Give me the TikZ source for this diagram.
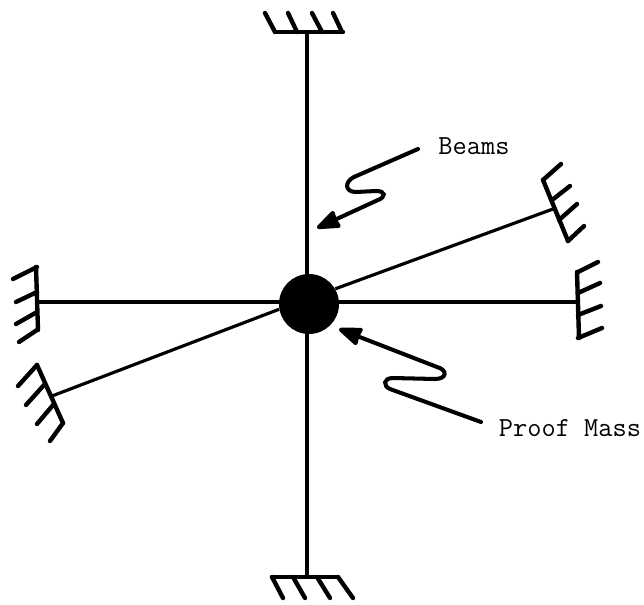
\documentclass[tikz,border=0pt]{standalone}
\usepackage{tikz}
\usetikzlibrary{arrows.meta}
\tikzset{
  beam/.style = {line width=1.8pt},
  wall/.style = {line width=2.5pt, line cap=round, line join=round},
  lead/.style = {line width=2.3pt, line cap=round,
                 -{Stealth[length=15pt, width=11pt, inset=0.5pt, round]}},
  lbl/.style  = {inner sep=0pt, font=\fontsize{15.7}{18}\selectfont\ttfamily},
}

\begin{document}
\begin{tikzpicture}[x=0.02cm, y=-0.02cm]
  \useasboundingbox (0,0) rectangle (644,604);

  \node[circle, fill=black, inner sep=0pt, minimum size=1.2cm] (mass) at (309,304) {};

  \node[lbl] (beams)     at (474,146) {Beams};
  \node[lbl] (proofmass) at (570,428) {Proof Mass};

  % beam ends on the walls
  \coordinate (wallN)  at (307,32);
  \coordinate (wallS)  at (307,577);
  \coordinate (wallW)  at (38,302);
  \coordinate (wallE)  at (578,302);
  \coordinate (wallNE) at (553,209);
  \coordinate (wallSW) at (52,396);

  \draw[beam] (wallN)  -- (wallN |- mass.north);
  \draw[beam] (wallS)  -- (wallS |- mass.south);
  \draw[beam] (wallW)  -- (wallW -| mass.west);
  \draw[beam] (wallE)  -- (wallE -| mass.east);
  \draw[beam] (wallNE) -- (mass.30);
  \draw[beam] (wallSW) -- (mass.190);

  % top wall
  \draw[wall] (275,32) -- (343,32);
  \foreach \xa/\xb in {275/265, 297/288, 322/312, 342/333}
    \draw[wall] (\xa,32) -- (\xb,13);

  % bottom wall
  \draw[wall] (272,577) -- (338,577);
  \foreach \xa/\xb in {272/283, 293/305, 317/330, 338/353}
    \draw[wall] (\xa,577) -- (\xb,598);

  % left wall
  \draw[wall] (36,267) -- (38,330);
  \foreach \ya/\xb/\yb in {267/13/279, 292/16/302, 312/16/324, 330/19/342}
    \draw[wall] (37,\ya) -- (\xb,\yb);

  % right wall
  \draw[wall] (577,272) -- (579,338);
  \foreach \ya/\xb/\yb in {272/598/262, 293/600/283, 315/601/306, 338/602/328}
    \draw[wall] (578,\ya) -- (\xb,\yb);

  % slanted wall, upper right
  \draw[wall] (543,180) -- (568,241);
  \foreach \xa/\ya/\xb/\yb in {543/180/561/164, 552/200/570/186, 559/220/577/204, 568/241/584/226}
    \draw[wall] (\xa,\ya) -- (\xb,\yb);

  % slanted wall, lower left
  \draw[wall] (37,365) -- (63,423);
  \foreach \xa/\ya/\xb/\yb in {37/365/18/386, 44/385/26/405, 53/405/37/424, 63/423/50/441}
    \draw[wall] (\xa,\ya) -- (\xb,\yb);

  % leaders
  \coordinate (beamsTail) at (418,149);
  \coordinate (beamsTip)  at (317,228);
  \coordinate (massTail)  at (481,422);
  \coordinate (massTip)   at (339,329);

  \draw[lead] (beamsTail) -- (354,177) .. controls (344,182) and (345,192) .. (356,192)
    -- (376,191) .. controls (386,191) and (386,197) .. (378,200) -- (beamsTip);
  \draw[lead] (massTail) -- (390,389) .. controls (383,386) and (383,378) .. (393,378)
    -- (435,379) .. controls (447,379) and (448,370) .. (437,367) -- (massTip);
\end{tikzpicture}
\end{document}
